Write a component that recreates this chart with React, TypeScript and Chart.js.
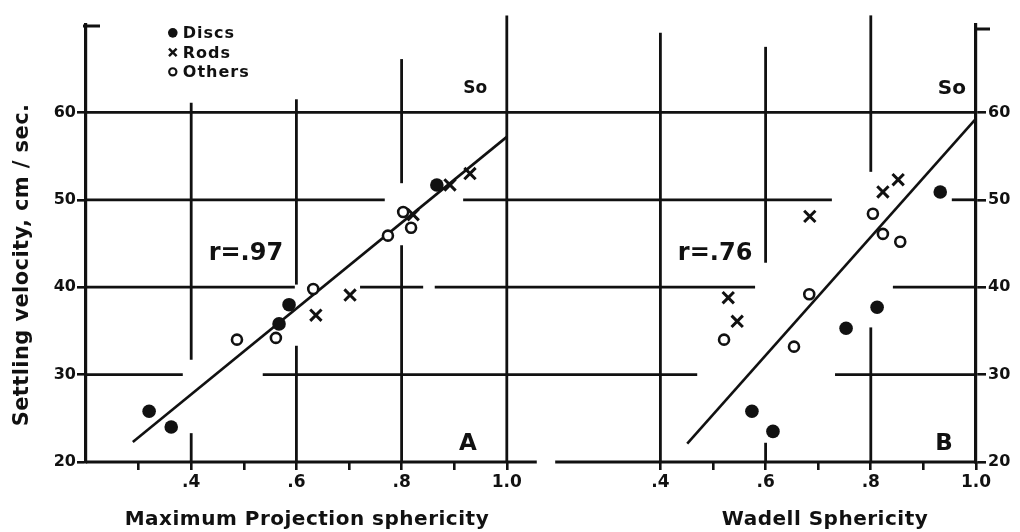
import React, { useEffect, useRef } from 'react';
import { Chart, registerables } from 'chart.js';

Chart.register(...registerables);

// ---------- data ----------
// Panel A: Maximum Projection sphericity
const discsA = [
  { x: 0.32, y: 25.8 },
  { x: 0.362, y: 24.0 },
  { x: 0.567, y: 35.8 },
  { x: 0.586, y: 38.0 },
  { x: 0.867, y: 51.7 },
];
const rodsA = [
  { x: 0.637, y: 36.8 },
  { x: 0.702, y: 39.1 },
  { x: 0.822, y: 48.3 },
  { x: 0.892, y: 51.7 },
  { x: 0.93, y: 53.0 },
];
const othersA = [
  { x: 0.487, y: 34.0 },
  { x: 0.561, y: 34.2 },
  { x: 0.632, y: 39.8 },
  { x: 0.774, y: 45.9 },
  { x: 0.803, y: 48.6 },
  { x: 0.818, y: 46.8 },
];
const fitA = [
  { x: 0.289, y: 22.3 },
  { x: 1.0, y: 57.2 },
];

// Panel B: Wadell sphericity
const discsB = [
  { x: 0.574, y: 25.8 },
  { x: 0.614, y: 23.5 },
  { x: 0.753, y: 35.3 },
  { x: 0.812, y: 37.7 },
  { x: 0.932, y: 50.9 },
];
const rodsB = [
  { x: 0.529, y: 38.8 },
  { x: 0.546, y: 36.1 },
  { x: 0.684, y: 48.1 },
  { x: 0.823, y: 50.9 },
  { x: 0.852, y: 52.3 },
];
const othersB = [
  { x: 0.521, y: 34.0 },
  { x: 0.654, y: 33.2 },
  { x: 0.683, y: 39.2 },
  { x: 0.804, y: 48.4 },
  { x: 0.823, y: 46.1 },
  { x: 0.856, y: 45.2 },
];
const fitB = [
  { x: 0.451, y: 22.1 },
  { x: 1.0, y: 59.3 },
];

const seriesNames = ['Discs', 'Rods', 'Others'];
const panelTitles = ['Maximum Projection sphericity', 'Wadell Sphericity'];
const correlations = ['r=.97', 'r=.76'];
const panelLetters = ['A', 'B'];
const sphereLabel = 'So';
const yTitle = 'Settling velocity, cm / sec.';

// tick labels
const xMajorTicks = [0.4, 0.6, 0.8, 1.0];
const xMajorLabels = ['.4', '.6', '.8', '1.0'];
const xMinorTicksA = [0.3, 0.5, 0.7, 0.9];
const xMinorTicksB = [0.5, 0.7, 0.9];
const yTicks = [20, 30, 40, 50, 60];

// ---------- layout of the sheet ----------
const SHIFT = 0.892; // panel B sits to the right of panel A on one sheet
const X_MIN = 0.2;
const X_MAX = 1.0 + SHIFT;
const Y_MIN = 20;
const Y_MAX = 70;
const INK = '#111111';
const FONT = '"DejaVu Sans", "Liberation Sans", sans-serif';

// broken graph-paper rules (sheet units of panel A scale / velocity)
const sheetRows: [number, number, number][] = [
  [60, 0.2, 1.892],
  [50, 0.2, 0.768],
  [50, 0.917, 1.618],
  [50, 1.846, 1.892],
  [40, 0.2, 0.597],
  [40, 0.721, 0.841],
  [40, 0.863, 1.472],
  [40, 1.734, 1.892],
  [30, 0.2, 0.384],
  [30, 0.536, 1.362],
  [30, 1.624, 1.892],
  [20, 0.2, 1.057],
  [20, 1.092, 1.892],
];
const sheetColumns: { axis: string; x: number; from: number; to: number }[] = [
  { axis: 'xA', x: 0.4, from: 61.1, to: 31.7 },
  { axis: 'xA', x: 0.4, from: 23.3, to: 20 },
  { axis: 'xA', x: 0.6, from: 61.5, to: 40.3 },
  { axis: 'xA', x: 0.6, from: 33.3, to: 20 },
  { axis: 'xA', x: 0.8, from: 66.1, to: 51.9 },
  { axis: 'xA', x: 0.8, from: 44.8, to: 20 },
  { axis: 'xA', x: 1.0, from: 71.1, to: 20 },
  { axis: 'xB', x: 0.4, from: 69.1, to: 20 },
  { axis: 'xB', x: 0.6, from: 67.5, to: 42.8 },
  { axis: 'xB', x: 0.6, from: 22.2, to: 20 },
  { axis: 'xB', x: 0.8, from: 71.1, to: 53.2 },
  { axis: 'xB', x: 0.8, from: 35.4, to: 20 },
];

function tickLabel(value: number): string {
  const v = value > 1.05 ? value - SHIFT : value;
  const r = Math.round(v * 10) / 10;
  const i = xMajorTicks.findIndex((t) => Math.abs(t - r) < 1e-6);
  return i >= 0 ? xMajorLabels[i] : '';
}

function drawMarker(ctx: CanvasRenderingContext2D, kind: number, x: number, y: number, s: number) {
  ctx.save();
  ctx.strokeStyle = INK;
  ctx.fillStyle = INK;
  if (kind === 0) {
    ctx.beginPath();
    ctx.arc(x, y, s, 0, Math.PI * 2);
    ctx.fill();
  } else if (kind === 1) {
    ctx.lineWidth = 2.4;
    ctx.beginPath();
    ctx.moveTo(x - s, y - s);
    ctx.lineTo(x + s, y + s);
    ctx.moveTo(x + s, y - s);
    ctx.lineTo(x - s, y + s);
    ctx.stroke();
  } else {
    ctx.lineWidth = 2.2;
    ctx.beginPath();
    ctx.arc(x, y, s - 0.8, 0, Math.PI * 2);
    ctx.stroke();
  }
  ctx.restore();
}

const sheetPlugin = {
  id: 'sheet',
  beforeDatasetsDraw(chart: any) {
    const { ctx } = chart;
    const xA = chart.scales.xA;
    const y = chart.scales.y;
    ctx.save();
    ctx.strokeStyle = INK;
    ctx.lineWidth = 2.8;
    ctx.lineCap = 'butt';
    for (const [yv, u1, u2] of sheetRows) {
      const py = y.getPixelForValue(yv);
      ctx.beginPath();
      ctx.moveTo(xA.getPixelForValue(u1), py);
      ctx.lineTo(xA.getPixelForValue(u2), py);
      ctx.stroke();
    }
    for (const c of sheetColumns) {
      const px = chart.scales[c.axis].getPixelForValue(c.x);
      ctx.beginPath();
      ctx.moveTo(px, y.getPixelForValue(c.from));
      ctx.lineTo(px, y.getPixelForValue(c.to));
      ctx.stroke();
    }
    // axis caps
    const { left, right, top } = chart.chartArea;
    ctx.lineWidth = 3;
    ctx.beginPath();
    ctx.moveTo(left - 3, top + 1);
    ctx.lineTo(left + 14, top + 1);
    ctx.moveTo(right - 1, top + 4);
    ctx.lineTo(right + 14, top + 4);
    ctx.stroke();
    ctx.restore();
  },
  afterDraw(chart: any) {
    const { ctx } = chart;
    const xA = chart.scales.xA;
    const xB = chart.scales.xB;
    const y = chart.scales.y;
    ctx.save();
    ctx.fillStyle = INK;
    ctx.textAlign = 'center';
    ctx.textBaseline = 'middle';

    // correlation notes
    ctx.font = `bold 24px ${FONT}`;
    ctx.fillText(correlations[0], xA.getPixelForValue(0.504), y.getPixelForValue(43.8));
    ctx.fillText(correlations[1], xB.getPixelForValue(0.504), y.getPixelForValue(43.8));

    // panel letters
    ctx.font = `bold 23px ${FONT}`;
    ctx.fillText(panelLetters[0], xA.getPixelForValue(0.926), y.getPixelForValue(22.1));
    ctx.fillText(panelLetters[1], xB.getPixelForValue(0.939), y.getPixelForValue(22.1));

    // sphere labels
    ctx.font = `bold 17px ${FONT}`;
    ctx.fillText(sphereLabel, xA.getPixelForValue(0.94), y.getPixelForValue(62.7));
    ctx.font = `bold 20px ${FONT}`;
    ctx.fillText(sphereLabel, xB.getPixelForValue(0.954), y.getPixelForValue(62.7));

    // legend
    ctx.textAlign = 'left';
    ctx.font = `bold 16px ${FONT}`;
    (ctx as any).letterSpacing = '1px';
    const lx = xA.getPixelForValue(0.365);
    const ly0 = y.getPixelForValue(69.1);
    const sizes = [4.8, 3.8, 4.4];
    seriesNames.forEach((name, i) => {
      const ly = ly0 + i * 19.5;
      drawMarker(ctx, i, lx, ly, sizes[i]);
      ctx.fillText(name, lx + 10, ly + 1);
    });

    // x titles
    ctx.textAlign = 'center';
    ctx.font = `bold 20px ${FONT}`;
    (ctx as any).letterSpacing = '0.5px';
    const ty = xA.bottom - 12;
    ctx.fillText(panelTitles[0], xA.getPixelForValue(0.62), ty);
    ctx.fillText(panelTitles[1], xB.getPixelForValue(0.713), ty);

    // y title
    ctx.font = `bold 21px ${FONT}`;
    (ctx as any).letterSpacing = '0.4px';
    ctx.translate(23, 265);
    ctx.rotate(-Math.PI / 2);
    ctx.fillText(yTitle, 0, 0);
    ctx.restore();
  },
};

export default function App() {
  const ref = useRef<HTMLCanvasElement | null>(null);

  useEffect(() => {
    if (!ref.current) return;
    const pointCommon = { showLine: false, yAxisID: 'y' };
    const disc = { ...pointCommon, pointStyle: 'circle', pointRadius: 6.8, backgroundColor: INK, borderWidth: 0 };
    const rod = { ...pointCommon, pointStyle: 'crossRot', pointRadius: 8, borderColor: INK, pointBorderWidth: 3, backgroundColor: INK };
    const other = { ...pointCommon, pointStyle: 'circle', pointRadius: 5, backgroundColor: '#ffffff', borderColor: INK, pointBorderWidth: 2.6 };
    const fit = { yAxisID: 'y', showLine: true, pointRadius: 0, borderColor: INK, borderWidth: 2.6, order: 10 };

    const chart = new Chart(ref.current, {
      type: 'scatter',
      data: {
        datasets: [
          { label: 'Discs A', data: discsA, xAxisID: 'xA', ...disc },
          { label: 'Rods A', data: rodsA, xAxisID: 'xA', ...rod },
          { label: 'Others A', data: othersA, xAxisID: 'xA', ...other },
          { label: 'Fit A', data: fitA, xAxisID: 'xA', ...fit },
          { label: 'Discs B', data: discsB, xAxisID: 'xB', ...disc },
          { label: 'Rods B', data: rodsB, xAxisID: 'xB', ...rod },
          { label: 'Others B', data: othersB, xAxisID: 'xB', ...other },
          { label: 'Fit B', data: fitB, xAxisID: 'xB', ...fit },
        ] as any,
      },
      options: {
        animation: false,
        responsive: false,
        events: [],
        clip: false as any,
        layout: { padding: { top: 25, left: 0, right: 0, bottom: 0 } },
        plugins: { legend: { display: false }, tooltip: { enabled: false } },
        scales: {
          xA: {
            type: 'linear',
            axis: 'x',
            position: 'bottom',
            min: X_MIN,
            max: X_MAX,
            border: { display: false },
            grid: { drawOnChartArea: false, drawTicks: true, tickLength: 8, color: INK, lineWidth: 2.6 },
            afterBuildTicks: (scale: any) => {
              scale.ticks = [
                ...xMinorTicksA.map((v) => ({ value: v })),
                ...xMajorTicks.map((v) => ({ value: v })),
                ...xMinorTicksB.map((v) => ({ value: v + SHIFT })),
                ...xMajorTicks.map((v) => ({ value: v + SHIFT })),
              ].sort((a, b) => a.value - b.value);
            },
            afterFit: (scale: any) => {
              scale.height = 70;
            },
            ticks: {
              autoSkip: false,
              maxRotation: 0,
              padding: 2,
              color: INK,
              font: { family: FONT, weight: 'bold', size: 17 },
              callback: (value: any) => tickLabel(Number(value)),
            },
          },
          xB: {
            type: 'linear',
            axis: 'x',
            position: 'bottom',
            display: false,
            min: X_MIN - SHIFT,
            max: 1.0,
          },
          y: {
            type: 'linear',
            position: 'left',
            min: Y_MIN,
            max: Y_MAX,
            border: { display: true, color: INK, width: 3.2 },
            grid: { drawOnChartArea: false, drawTicks: true, tickLength: 9, color: INK, lineWidth: 2.6 },
            afterBuildTicks: (scale: any) => {
              scale.ticks = yTicks.map((v) => ({ value: v }));
            },
            afterFit: (scale: any) => {
              scale.width = 86;
            },
            ticks: { padding: 1, color: INK, font: { family: FONT, weight: 'bold', size: 16 } },
          },
          y2: {
            type: 'linear',
            position: 'right',
            min: Y_MIN,
            max: Y_MAX,
            border: { display: true, color: INK, width: 3.2 },
            grid: { drawOnChartArea: false, drawTicks: true, tickLength: 10, color: INK, lineWidth: 2.6 },
            afterBuildTicks: (scale: any) => {
              scale.ticks = yTicks.map((v) => ({ value: v }));
            },
            afterFit: (scale: any) => {
              scale.width = 44;
            },
            ticks: { padding: 2, color: INK, font: { family: FONT, weight: 'bold', size: 16 } },
          },
        } as any,
      },
      plugins: [sheetPlugin as any],
    });
    return () => chart.destroy();
  }, []);

  return (
    <div style={{ position: 'absolute', left: 0, top: 0, width: 1020, height: 532, background: '#ffffff' }}>
      <canvas ref={ref} width={1020} height={532} style={{ display: 'block' }} />
    </div>
  );
}
